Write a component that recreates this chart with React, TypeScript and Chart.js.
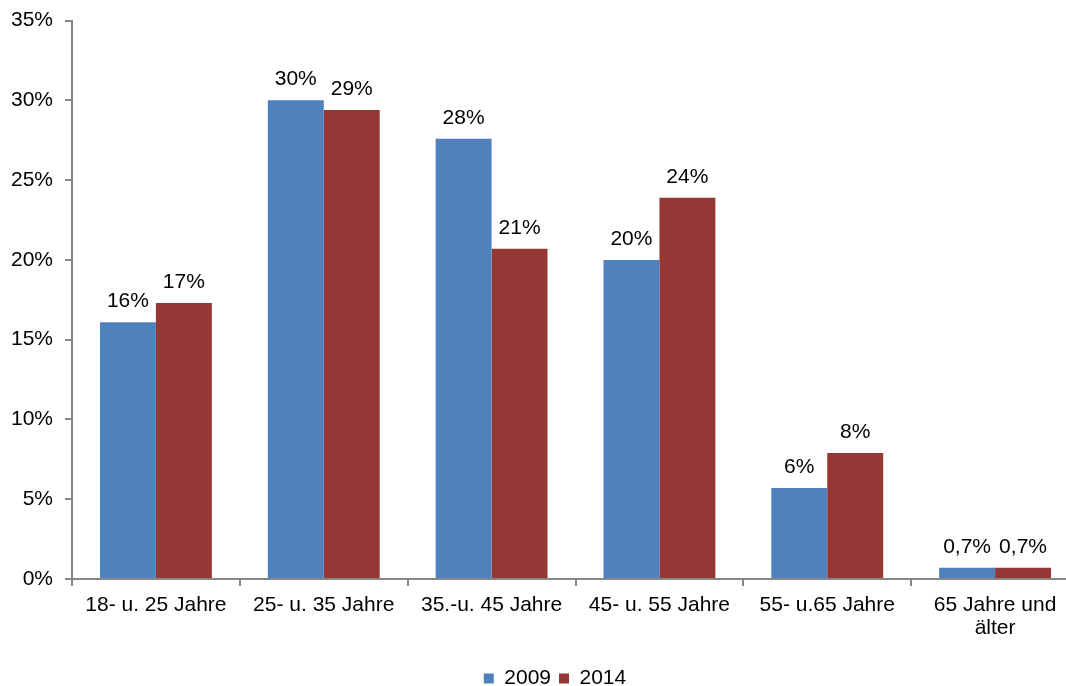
import { useEffect, useRef } from "react";
import { Chart, registerables } from "chart.js";

Chart.register(...registerables);

// Age groups on the category axis
const ageGroups: (string | string[])[] = [
  "18- u. 25 Jahre",
  "25- u. 35 Jahre",
  "35.-u. 45 Jahre",
  "45- u. 55 Jahre",
  "55- u.65 Jahre",
  ["65 Jahre und", "älter"],
];

// Shares per age group, in percent
const share2009 = [16.1, 30.0, 27.6, 20.0, 5.7, 0.7];
const share2014 = [17.3, 29.4, 20.7, 23.9, 7.9, 0.7];

const seriesNames = ["2009", "2014"];
const seriesColors = ["#4F81BD", "#953735"];

const yMax = 35;
const yStep = 5;

const FONT = "'Liberation Sans', Arial, sans-serif";
const FONT_SIZE = 21;
const AXIS_GRAY = "#868686";

const CANVAS_W = 1110;
const CANVAS_H = 703;

const formatShare = (v: number) =>
  v >= 1 ? `${Math.round(v)}%` : `${v.toFixed(1).replace(".", ",")}%`;

const valueLabels = {
  id: "valueLabels",
  afterDatasetsDraw(chart: Chart) {
    const { ctx } = chart;
    ctx.save();
    ctx.font = `${FONT_SIZE}px ${FONT}`;
    ctx.fillStyle = "#000";
    ctx.textAlign = "center";
    ctx.textBaseline = "alphabetic";
    chart.data.datasets.forEach((ds, di) => {
      const meta = chart.getDatasetMeta(di);
      meta.data.forEach((bar: any, i: number) => {
        const v = ds.data[i] as number;
        ctx.fillText(formatShare(v), bar.x, bar.y - 15);
      });
    });
    ctx.restore();
  },
};

export default function App() {
  const canvasRef = useRef<HTMLCanvasElement>(null);

  useEffect(() => {
    Chart.defaults.font.family = FONT;
    Chart.defaults.font.size = FONT_SIZE;
    Chart.defaults.color = "#000";

    const chart = new Chart(canvasRef.current!, {
      type: "bar",
      data: {
        labels: ageGroups,
        datasets: [
          {
            label: seriesNames[0],
            data: share2009,
            backgroundColor: seriesColors[0],
            categoryPercentage: 2 / 3,
            barPercentage: 1,
          },
          {
            label: seriesNames[1],
            data: share2014,
            backgroundColor: seriesColors[1],
            categoryPercentage: 2 / 3,
            barPercentage: 1,
          },
        ],
      },
      options: {
        responsive: false,
        animation: false,
        layout: { padding: 0 },
        plugins: {
          legend: {
            position: "bottom",
            labels: {
              boxWidth: 10,
              boxHeight: 10,
              padding: 8,
              font: { size: FONT_SIZE, family: FONT },
              color: "#000",
            },
          },
          tooltip: { enabled: false },
        },
        scales: {
          x: {
            grid: {
              drawOnChartArea: false,
              drawTicks: true,
              tickLength: 7,
              color: AXIS_GRAY,
              lineWidth: 2,
            },
            border: { color: AXIS_GRAY, width: 2 },
            ticks: {
              color: "#000",
              padding: 8,
              maxRotation: 0,
              autoSkip: false,
              font: { size: FONT_SIZE, family: FONT, lineHeight: 1.1 },
            },
            afterFit: (scale: any) => {
              scale.height = 81;
            },
          },
          y: {
            min: 0,
            max: yMax,
            grid: {
              drawOnChartArea: false,
              drawTicks: true,
              tickLength: 7,
              color: AXIS_GRAY,
              lineWidth: 2,
            },
            border: { color: AXIS_GRAY, width: 2 },
            ticks: {
              stepSize: yStep,
              color: "#000",
              padding: 12,
              callback: (v: any) => `${v}%`,
              font: { size: FONT_SIZE, family: FONT },
            },
            afterFit: (scale: any) => {
              scale.width = 72;
            },
          },
          // empty right-hand axis that only reserves space beside the plot
          spacer: {
            type: "linear",
            position: "right",
            display: true,
            grid: { display: false, drawTicks: false },
            border: { display: false },
            ticks: { display: false },
            afterFit: (scale: any) => {
              scale.width = CANVAS_W - 1079;
            },
          },
        },
      },
      plugins: [valueLabels],
    });

    return () => chart.destroy();
  }, []);

  return (
    <div
      style={{
        position: "fixed",
        left: 0,
        top: 0,
        width: 1066,
        height: 686,
        overflow: "hidden",
        background: "#fff",
      }}
    >
      <canvas
        ref={canvasRef}
        width={CANVAS_W}
        height={CANVAS_H}
        style={{
          display: "block",
          width: CANVAS_W,
          height: CANVAS_H,
          marginTop: -4,
        }}
      />
    </div>
  );
}
